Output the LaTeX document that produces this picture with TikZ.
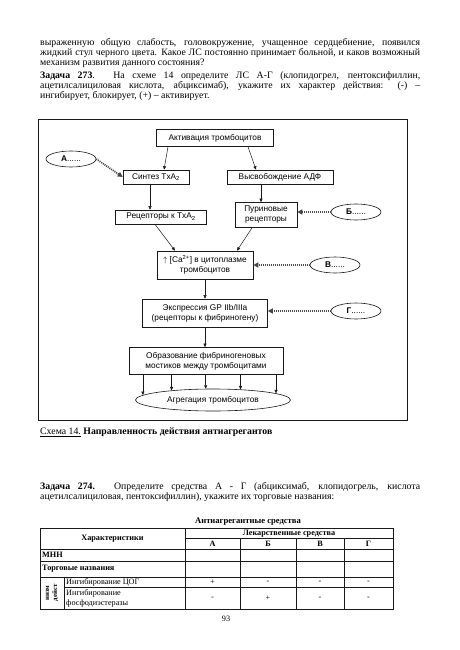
\documentclass[tikz,border=0pt]{standalone}
\usepackage{fontspec}
\setmainfont{Liberation Serif}
\setsansfont{Liberation Sans}
\usetikzlibrary{arrows.meta,shapes.geometric}
\definecolor{ColLine}{RGB}{25,25,25}
\definecolor{ColDot}{RGB}{70,70,70}
\newcommand{\JLine}[1]{\makebox[380pt][s]{#1}}
\tikzstyle{BoxStep}=[draw=ColLine,line width=.6pt,fill=white,font=\sffamily\fontsize{8.3}{10}\selectfont,
align=center,inner sep=2pt,minimum height=14pt]
\tikzstyle{DrugOval}=[ellipse,draw=ColLine,line width=.6pt,font=\sffamily\fontsize{8.3}{10}\selectfont,
minimum width=50pt,minimum height=16pt,inner sep=0pt]
\tikzstyle{EdgeArrow}=[ColLine,line width=.5pt,-{Triangle[length=3.5pt,width=3pt]}]
\tikzstyle{EdgeBlock}=[ColDot,line width=1.8pt,dash pattern=on 1pt off 1pt,-{Triangle[length=5pt,width=5pt]}]
\tikzstyle{FrameLine}=[ColLine,line width=1pt]
\tikzstyle{TabLine}=[ColLine,line width=.8pt]
\tikzstyle{TextLine}=[anchor=west,inner sep=0pt,font=\fontsize{9.8}{10.5}\selectfont]
\tikzstyle{TabText}=[inner sep=0pt,font=\fontsize{8.2}{10}\selectfont]
\tikzstyle{TabHead}=[inner sep=0pt,font=\bfseries\fontsize{8.2}{10}\selectfont]

\begin{document}
\begin{tikzpicture}[x=1pt,y=-1pt]
        \useasboundingbox(0,0)rectangle(459,650);
        \node[TextLine](t1)at(40,43){\JLine{выраженную общую слабость, головокружение, учащенное сердцебиение, появился}};
        \node[TextLine](t2)at(40,53){\JLine{жидкий стул черного цвета. Какое ЛС постоянно принимает больной, и каков возможный}};
        \node[TextLine](t3)at(40,63){механизм развития данного состояния?};
        \node[TextLine](t4)at(40,76){\JLine{\textbf{Задача 273}. На схеме 14 определите ЛС А-Г (клопидогрел, пентоксифиллин,}};
        \node[TextLine](t5)at(40,86){\JLine{ацетилсалициловая кислота, абциксимаб), укажите их характер действия: (-) –}};
        \node[TextLine](t6)at(40,96){ингибирует, блокирует, (+) – активирует.};
        \draw[FrameLine](38,120)rectangle(407,420);
        \node[BoxStep,minimum width=117pt,minimum height=17pt](act)at(215,138){Активация тромбоцитов};
        \node[DrugOval](drA)at(71,159){\textbf{А}......};
        \node[BoxStep,minimum width=66pt](syn)at(156,177){Синтез TxA\textsubscript{2}};
        \node[BoxStep,minimum width=106pt](adp)at(280,177){Высвобождение АДФ};
        \node[BoxStep,minimum width=91pt](rec)at(161,217){Рецепторы к TxA\textsubscript{2}};
        \node[BoxStep,minimum width=62pt,minimum height=25pt](pur)at(266,215){Пуриновые\\рецепторы};
        \node[DrugOval](drB)at(356,212){\textbf{Б}......};
        \node[BoxStep,minimum width=96pt,minimum height=28pt](ca)at(205,265){$\uparrow$ [Ca\textsuperscript{2+}] в цитоплазме\\тромбоцитов};
        \node[DrugOval](drV)at(335,265){\textbf{В}......};
        \node[BoxStep,minimum width=125pt,minimum height=28pt](gp)at(205,313){Экспрессия GP IIb/IIIa\\(рецепторы к фибриногену)};
        \node[DrugOval](drG)at(356,311){\textbf{Г}......};
        \node[BoxStep,minimum width=154pt,minimum height=27pt](obr)at(206,361){Образование фибриногеновых\\мостиков между тромбоцитами};
        \node[DrugOval,minimum width=155pt,minimum height=22pt](agg)at(213,400){Агрегация тромбоцитов};
        \draw[EdgeArrow]([xshift=-47pt]act.south)--([xshift=8pt]syn.north);
        \draw[EdgeArrow]([xshift=33pt]act.south)--([xshift=-24pt]adp.north);
        \draw[EdgeArrow]([xshift=-6pt]syn.south)--([xshift=-6pt]syn.south|-rec.north);
        \draw[EdgeArrow]([xshift=-19pt]adp.south)--([xshift=-19pt]adp.south|-pur.north);
        \draw[EdgeArrow]([xshift=-6pt]rec.south)--([xshift=-30pt]ca.north);
        \draw[EdgeArrow]([xshift=-14pt]pur.south)--([xshift=32pt]ca.north);
        \draw[EdgeArrow](ca)--(gp);
        \draw[EdgeArrow](gp.south)--(gp.south|-obr.north);
        \foreach \a in {176,167,123,21,6}\draw[EdgeArrow](obr.south-|agg.\a)--(agg.\a);
        \draw[EdgeBlock](drA.east)--(syn.west);
        \draw[EdgeBlock](drB.west)--(drB.west-|pur.east);
        \draw[EdgeBlock](drV.west)--(drV.west-|ca.east);
        \draw[EdgeBlock](drG.west)--(drG.west-|gp.east);
        \node[TextLine](cap)at(40,432){\underline{Схема 14.} \textbf{Направленность действия антиагрегантов}};
        \node[TextLine](t7)at(40,487){\JLine{\textbf{Задача 274.} Определите средства А - Г (абциксимаб, клопидогрель, кислота}};
        \node[TextLine](t8)at(40,497){ацетилсалициловая, пентоксифиллин), укажите их торговые названия:};
        \node[TabHead,font=\bfseries\fontsize{8.6}{10}\selectfont](tcap)at(248,522){Антиагрегантные средства};
        \draw[TabLine](40,528)rectangle(393,609);
        \draw[TabLine](185,528)--(185,609);
        \draw[TabLine](185,538.5)--(393,538.5);
        \foreach \x in {240,296,344}\draw[TabLine](\x,538.5)--(\x,609);
        \foreach \y in {549,561,577}\draw[TabLine](40,\y)--(393,\y);
        \draw[TabLine](64,587)--(393,587);
        \draw[TabLine](64,577)--(64,609);
        \node[TabHead](chr)at(112.5,538.5){Характеристики};
        \node[TabHead](drugs)at(289,533.5){Лекарственные средства};
        \foreach \c/\x [count=\i] in {А/212.5,Б/268,В/320,Г/368.5}\node[TabHead](h\i)at(\x,544){\c};
        \node[TabHead,anchor=west](inn)at(42,555){МНН};
        \node[TabHead,anchor=west](trade)at(42,569){Торговые названия};
        \node[TabHead,rotate=90,align=center,font=\bfseries\fontsize{6.8}{8}\selectfont](mech)at(52,593){низм\\дейст};
        \node[TabText,anchor=west](cox)at(66,582){Ингибирование ЦОГ};
        \node[TabText,anchor=west,align=left](pde)at(66,598){Ингибирование\\фосфодиэстеразы};
        \foreach \s/\x [count=\i] in {+/212.5,-/268,-/320,-/368.5}\node[TabText](c\i)at(\x,582){\s};
        \foreach \s/\x [count=\i] in {-/212.5,+/268,-/320,-/368.5}\node[TabText](p\i)at(\x,598){\s};
        \node[TabText](pg)at(226,619){93};
    \end{tikzpicture}
\end{document}
